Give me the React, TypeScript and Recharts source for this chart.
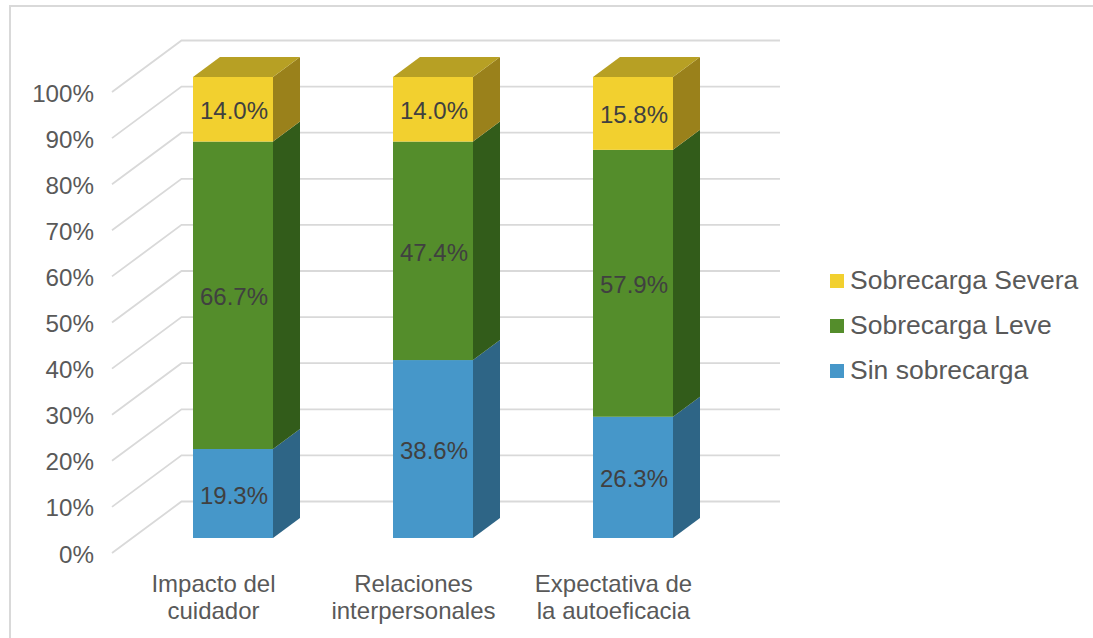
import { BarChart, Bar, XAxis, YAxis, CartesianGrid, Legend, LabelList } from "recharts";

const categories = ["Impacto del\ncuidador", "Relaciones\ninterpersonales", "Expectativa de\nla autoeficacia"];
const sinSobrecarga = [19.3, 38.6, 26.3];
const sobrecargaLeve = [66.7, 47.4, 57.9];
const sobrecargaSevera = [14.0, 14.0, 15.8];
const yTicks = [0, 10, 20, 30, 40, 50, 60, 70, 80, 90, 100];

const data = categories.map((name, i) => ({
  name,
  sin: sinSobrecarga[i],
  leve: sobrecargaLeve[i],
  severa: sobrecargaSevera[i],
}));

const FONT = "'Liberation Sans', Arial, sans-serif";
const DEPTH_X = 27;
const DEPTH_Y = 20;

// fake 3D box: front face, right side and (only for the last series) the lid
function box3d(side: string, lid?: string) {
  return (props: any) => {
    const { x, y, width, height, fill } = props;
    const r = x + width;
    return (
      <g>
        <polygon
          points={`${r},${y} ${r + DEPTH_X},${y - DEPTH_Y} ${r + DEPTH_X},${y + height - DEPTH_Y} ${r},${y + height}`}
          fill={side}
        />
        {lid && (
          <polygon
            points={`${x},${y} ${x + DEPTH_X},${y - DEPTH_Y} ${r + DEPTH_X},${y - DEPTH_Y} ${r},${y}`}
            fill={lid}
          />
        )}
        <rect x={x} y={y} width={width} height={height} fill={fill} />
      </g>
    );
  };
}

// gridline runs along the side wall and then the back wall
function gridLine(props: any) {
  const y = props.y1;
  return (
    <polyline
      key={props.key ?? y}
      points={`112,${y + 15} 181.5,${y - 36.5} 780,${y - 36.5}`}
      fill="none"
      stroke="#d9d9d9"
      strokeWidth={1.8}
    />
  );
}

function YTick({ x, y, payload }: any) {
  return (
    <text x={x - 39} y={y + 24.5} textAnchor="end" fontSize={24.2} fontFamily={FONT} fill="#595959">
      {payload.value}%
    </text>
  );
}

function XTick({ x, y, payload }: any) {
  const lines = String(payload.value).split("\n");
  return (
    <text textAnchor="middle" fontSize={24} fontFamily={FONT} fill="#595959">
      {lines.map((line, i) => (
        <tspan key={line} x={x - 19.5} y={y + 51.5 + i * 27}>
          {line}
        </tspan>
      ))}
    </text>
  );
}

function LegendBox({ payload }: any) {
  return (
    <div style={{ fontFamily: FONT, fontSize: 26.5, color: "#595959" }}>
      {[...(payload ?? [])].reverse().map((item: any) => (
        <div key={item.value} style={{ display: "flex", alignItems: "center", height: 45, whiteSpace: "nowrap" }}>
          <span style={{ width: 14, height: 14, background: item.color, marginRight: 6 }} />
          {item.value}
        </div>
      ))}
    </div>
  );
}

const labelStyle = { fontSize: 24, fontFamily: FONT, fill: "#404040" };
const fmt = (v: any) => `${Number(v).toFixed(1)}%`;

export default function App() {
  return (
    <div style={{ position: "absolute", left: 0, top: 0, width: 1093, height: 638, background: "#fff", overflow: "hidden" }}>
      <div style={{ position: "absolute", left: 9, top: 5, width: 1084, height: 633, borderLeft: "2px solid #d9d9d9", borderTop: "2px solid #d9d9d9" }} />
      <BarChart
        width={1093}
        height={638}
        data={data}
        barSize={80}
        margin={{ top: 77, left: 33, right: 100, bottom: 40 }}
        style={{ position: "absolute", left: 0, top: 0 }}
      >
        <CartesianGrid vertical={false} horizontal={gridLine} />
        <XAxis dataKey="name" height={60} axisLine={false} tickLine={false} tickSize={0} interval={0} tick={XTick} />
        <YAxis
          type="number"
          domain={[0, 100]}
          ticks={yTicks}
          width={100}
          interval={0}
          axisLine={false}
          tickLine={false}
          tickSize={0}
          tickMargin={0}
          tick={YTick}
        />
        <Legend
          layout="horizontal"
          verticalAlign="middle"
          align="right"
          itemSorter={null}
          wrapperStyle={{ position: "absolute", left: 830, top: 258, width: 260 }}
          content={LegendBox}
        />
        <Bar dataKey="sin" name="Sin sobrecarga" stackId="a" fill="#4697c9" shape={box3d("#2e6586")} isAnimationActive={false}>
          <LabelList dataKey="sin" position="center" dx={1} dy={1.5} formatter={fmt} style={labelStyle} />
        </Bar>
        <Bar dataKey="leve" name="Sobrecarga Leve" stackId="a" fill="#548d2b" shape={box3d("#325c1a")} isAnimationActive={false}>
          <LabelList dataKey="leve" position="center" dx={1} dy={1.5} formatter={fmt} style={labelStyle} />
        </Bar>
        <Bar dataKey="severa" name="Sobrecarga Severa" stackId="a" fill="#f2d02f" shape={box3d("#9a811b", "#b7a024")} isAnimationActive={false}>
          <LabelList dataKey="severa" position="center" dx={1} dy={1.5} formatter={fmt} style={labelStyle} />
        </Bar>
      </BarChart>
    </div>
  );
}
